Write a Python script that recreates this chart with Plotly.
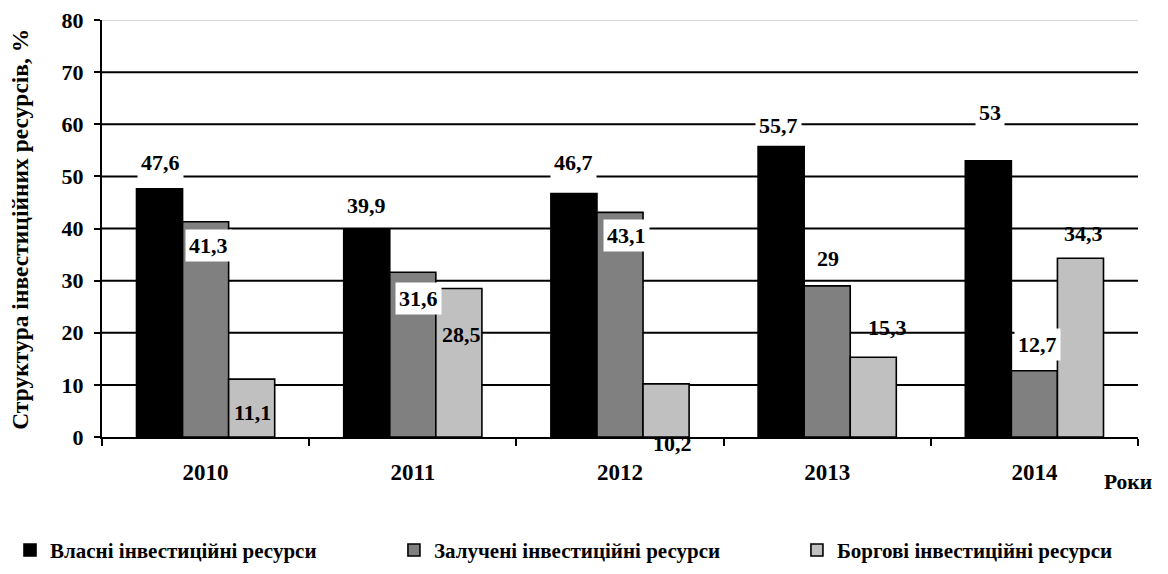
import plotly.graph_objects as go

years = ["2010", "2011", "2012", "2013", "2014"]
own = [47.6, 39.9, 46.7, 55.7, 53]
attracted = [41.3, 31.6, 43.1, 29, 12.7]
debt = [11.1, 28.5, 10.2, 15.3, 34.3]
names = ["Власні інвестиційні ресурси", "Залучені інвестиційні ресурси", "Боргові інвестиційні ресурси"]
y_ticks = [0, 10, 20, 30, 40, 50, 60, 70, 80]

series = [own, attracted, debt]
colors = ["#000000", "#808080", "#c0c0c0"]

# label placement (pixel offsets from bar top centre) and whether label has white box
label_dx = [[1, 0, 0, -3, 2], [3, 6, 6, 1, 3], [1, 3, 6, 14, 3]]
label_dy = [[26, 24, 31, 21, 48], [-24, -26, -23, 27, 26], [-33, -46, -60, 30, 25]]
label_box = [[True, True, True, True, True], [True, True, True, False, True], [False, False, False, False, False]]

FONT = "'Liberation Serif', Tinos, 'Times New Roman', 'DejaVu Serif', 'Noto Serif', serif"
BARGAP = 0.333
legend_ids = ["legend", "legend2", "legend3"]
legend_x = [-0.0888, 0.2818, 0.6708]

fig = go.Figure()
for name, vals, col, lg in zip(names, series, colors, legend_ids):
    fig.add_trace(go.Bar(
        x=years, y=vals, name=name, legend=lg,
        marker=dict(color=col, line=dict(color="#000000", width=1.6)),
    ))

slot = (1 - BARGAP) / 3
for j, vals in enumerate(series):
    for i, v in enumerate(vals):
        txt = f"{v:g}".replace(".", ",")
        fig.add_annotation(
            x=i + (j - 1) * slot, y=v, xref="x", yref="y",
            text=txt, showarrow=False,
            xshift=label_dx[j][i], yshift=label_dy[j][i],
            font=dict(family=FONT, size=22, color="#000000", weight="bold"),
            bgcolor="#ffffff" if label_box[j][i] else "rgba(0,0,0,0)",
            borderpad=3,
        )

for v in y_ticks[1:-1]:
    fig.add_hline(y=v, line=dict(color="#000000", width=2), layer="below")
fig.add_hline(y=y_ticks[-1], line=dict(color="#b0b0b0", width=1), layer="below")

fig.add_annotation(
    x=-0.0792, y=0.499, xref="paper", yref="paper",
    text="Структура інвестиційних ресурсів, %", textangle=-90,
    showarrow=False, xanchor="center", yanchor="middle",
    font=dict(family=FONT, size=23.5, color="#000000", weight="bold"),
)
fig.add_annotation(
    x=1.0, y=-0.108, xref="paper", yref="paper",
    text="Роки", showarrow=False, xanchor="left", yanchor="middle", xshift=-36,
    font=dict(family=FONT, size=21.5, color="#000000", weight="bold"),
)

legend_common = dict(
    orientation="h", y=-0.272, yanchor="middle", xanchor="left", itemwidth=30,
    font=dict(family=FONT, size=21, color="#000000", weight="bold"),
    bgcolor="rgba(0,0,0,0)",
)

fig.update_layout(
    width=1168, height=574,
    margin=dict(l=102, r=30, t=20, b=137, autoexpand=False),
    paper_bgcolor="#ffffff", plot_bgcolor="#ffffff",
    barmode="group", bargap=BARGAP, bargroupgap=0,
    font=dict(family=FONT, color="#000000"),
    showlegend=True,
    legend=dict(x=legend_x[0], **legend_common),
    legend2=dict(x=legend_x[1], **legend_common),
    legend3=dict(x=legend_x[2], **legend_common),
    xaxis=dict(
        type="category", showline=True, linecolor="#000000", linewidth=2,
        ticks="outside", tickson="boundaries", ticklen=7, tickwidth=2, tickcolor="#000000",
        showgrid=False, ticklabelstandoff=13, automargin=False,
        tickfont=dict(family=FONT, size=23, color="#000000", weight="bold"),
    ),
    yaxis=dict(
        range=[0, 80], tickvals=y_ticks, showgrid=False, zeroline=False,
        showline=True, linecolor="#000000", linewidth=2,
        ticks="outside", ticklen=6, tickwidth=2, tickcolor="#000000",
        ticklabelstandoff=6, automargin=False,
        tickfont=dict(family=FONT, size=22, color="#000000", weight="bold"),
    ),
)

fig.write_html("out.html")
